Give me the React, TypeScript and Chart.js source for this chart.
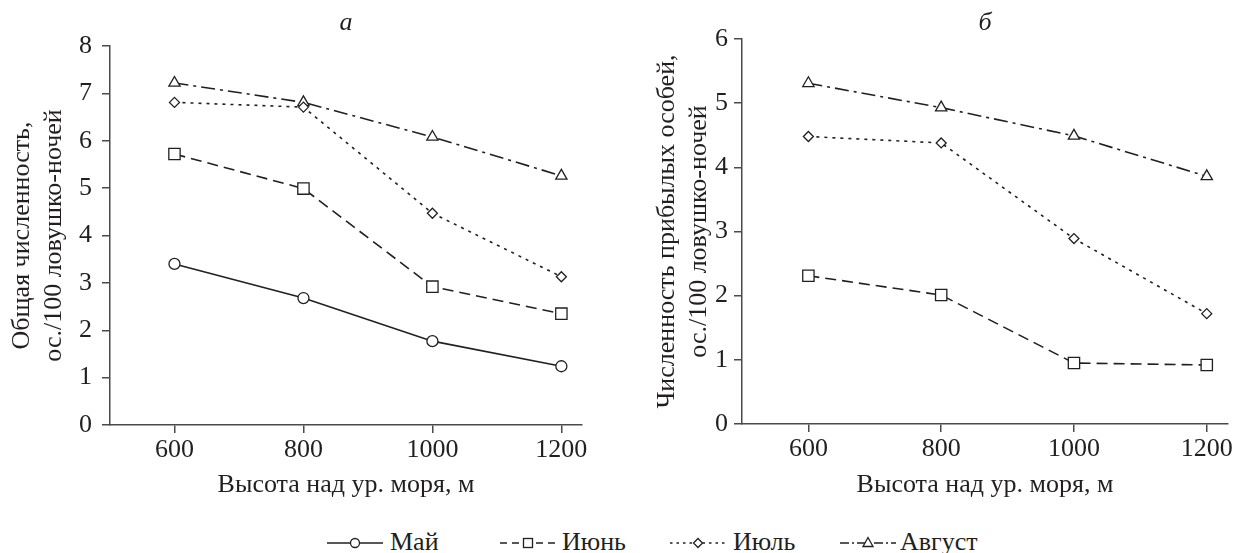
import React, { useEffect, useRef } from "react";
import { Chart, registerables } from "chart.js";

Chart.register(...registerables);

// ---------- data ----------
const altitudes = [600, 800, 1000, 1200];
const xTickValues = [600, 800, 1000, 1200];
const leftYTickValues = [0, 1, 2, 3, 4, 5, 6, 7, 8];
const rightYTickValues = [0, 1, 2, 3, 4, 5, 6];
const monthNames = ["Май", "Июнь", "Июль", "Август"];

// panel а: total abundance, ind./100 trap-nights
const totalMay = [3.4, 2.68, 1.77, 1.24];
const totalJune = [5.72, 4.99, 2.92, 2.35];
const totalJuly = [6.81, 6.71, 4.47, 3.13];
const totalAugust = [7.22, 6.81, 6.08, 5.26];

// panel б: abundance of young-of-the-year
const youngJune = [2.31, 2.01, 0.95, 0.92];
const youngJuly = [4.48, 4.38, 2.89, 1.72];
const youngAugust = [5.31, 4.93, 4.49, 3.86];

const leftYTitle = ["Общая численность,", "ос./100 ловушко-ночей"];
const rightYTitle = ["Численность прибылых особей,", "ос./100 ловушко-ночей"];
const xTitle = "Высота над ур. моря, м";

// ---------- styles ----------
const FONT = "'Liberation Serif', 'DejaVu Serif', 'Times New Roman', serif";
const INK = "#231f20";
const AXIS = "#4a4a4a";
const FS = 26;

const monthStyles: Record<string, any> = {
  "Май": { dash: [], pointStyle: "circle", radius: 5.5 },
  "Июнь": { dash: [11, 6], pointStyle: "rect", radius: 8 },
  "Июль": { dash: [3, 5], pointStyle: "rectRot", radius: 5 },
  "Август": { dash: [14, 5, 3, 5], pointStyle: "triangle", radius: 6.5 },
};

function makeDataset(name: string, values: number[]) {
  const s = monthStyles[name];
  return {
    label: name,
    data: altitudes.map((x, i) => ({ x, y: values[i] })),
    borderColor: INK,
    borderWidth: 1.6,
    borderDash: s.dash,
    pointStyle: s.pointStyle,
    pointRadius: s.radius,
    pointBorderWidth: 1.3,
    pointBorderColor: INK,
    pointBackgroundColor: "#ffffff",
    fill: false,
    tension: 0,
  };
}

function panelTitle(text: string) {
  return {
    id: "panelTitle",
    afterDraw(chart: any) {
      const { ctx, chartArea } = chart;
      ctx.save();
      ctx.font = `italic ${FS}px ${FONT}`;
      ctx.fillStyle = INK;
      ctx.textAlign = "center";
      ctx.textBaseline = "middle";
      ctx.fillText(text, (chartArea.left + chartArea.right) / 2, 23);
      ctx.restore();
    },
  };
}

interface PanelOpts {
  datasets: any[];
  yMax: number;
  yTicks: number[];
  yTitle: string[];
  yWidth: number;
  yTitlePad: number;
  yTickPad: number;
  padTop: number;
  padRight: number;
  xHeight: number;
  title: string;
}

function makeConfig(p: PanelOpts): any {
  const gridCommon = {
    display: true,
    drawOnChartArea: false,
    drawTicks: true,
    tickLength: 8,
    color: AXIS,
    lineWidth: 1.5,
  };
  return {
    type: "line",
    data: { datasets: p.datasets },
    plugins: [panelTitle(p.title)],
    options: {
      animation: false,
      responsive: false,
      maintainAspectRatio: false,
      layout: { padding: { top: p.padTop, right: p.padRight, left: 0, bottom: 0 } },
      plugins: {
        legend: { display: false },
        tooltip: { enabled: false },
        title: { display: false },
      },
      scales: {
        x: {
          type: "linear",
          min: 500,
          max: 1232,
          grid: gridCommon,
          border: { display: true, color: AXIS, width: 1.5 },
          afterBuildTicks: (scale: any) => {
            scale.ticks = xTickValues.map((v) => ({ value: v }));
          },
          afterFit: (scale: any) => {
            scale.height = p.xHeight;
          },
          ticks: {
            color: INK,
            padding: 2,
            maxRotation: 0,
            font: { family: FONT, size: FS },
            callback: (v: any) => String(v),
          },
          title: {
            display: true,
            text: xTitle,
            color: INK,
            font: { family: FONT, size: FS, lineHeight: 1.2 },
            padding: { top: 0, bottom: 9 },
          },
        },
        y: {
          type: "linear",
          min: 0,
          max: p.yMax,
          grid: gridCommon,
          border: { display: true, color: AXIS, width: 1.5 },
          afterBuildTicks: (scale: any) => {
            scale.ticks = p.yTicks.map((v) => ({ value: v }));
          },
          afterFit: (scale: any) => {
            scale.width = p.yWidth;
          },
          ticks: {
            color: INK,
            padding: p.yTickPad,
            font: { family: FONT, size: FS },
            callback: (v: any) => String(v),
          },
          title: {
            display: true,
            text: p.yTitle,
            color: INK,
            font: { family: FONT, size: FS, lineHeight: 1.2 },
            padding: { top: p.yTitlePad, bottom: 0 },
          },
        },
      },
    },
  };
}

function Panel({ width, height, left, opts }: { width: number; height: number; left: number; opts: PanelOpts }) {
  const ref = useRef<HTMLCanvasElement | null>(null);
  useEffect(() => {
    if (!ref.current) return;
    const chart = new Chart(ref.current, makeConfig(opts));
    return () => chart.destroy();
  }, []);
  return (
    <canvas
      ref={ref}
      width={width}
      height={height}
      style={{ position: "absolute", left, top: 0, width, height, display: "block" }}
    />
  );
}

function LegendSymbol({ name }: { name: string }) {
  const s = monthStyles[name];
  const w = 56;
  const h = 20;
  const cy = 10;
  const cx = w / 2;
  let marker: any = null;
  const mk = { fill: "#fff", stroke: INK, strokeWidth: 1.3 };
  if (s.pointStyle === "circle") marker = <circle cx={cx} cy={cy} r={4.5} {...mk} />;
  if (s.pointStyle === "rect") marker = <rect x={cx - 4.5} y={cy - 4.5} width={9} height={9} {...mk} />;
  if (s.pointStyle === "rectRot")
    marker = <polygon points={`${cx},${cy - 4.5} ${cx + 4.5},${cy} ${cx},${cy + 4.5} ${cx - 4.5},${cy}`} {...mk} />;
  if (s.pointStyle === "triangle")
    marker = <polygon points={`${cx},${cy - 5.5} ${cx + 5},${cy + 3.5} ${cx - 5},${cy + 3.5}`} {...mk} />;
  const dash = name === "Июнь" ? "7,5" : name === "Июль" ? "2.5,4" : name === "Август" ? "9,3,2,3" : undefined;
  return (
    <svg width={w} height={h} style={{ display: "block" }}>
      <line x1={0} y1={cy} x2={w} y2={cy} stroke={INK} strokeWidth={1.6} strokeDasharray={dash} />
      {marker}
    </svg>
  );
}

const legendSymbolX = [327, 500, 670, 840];
const legendTextX = [390, 562, 733, 900];

export default function App() {
  useEffect(() => {
    document.body.style.margin = "0";
  }, []);

  const leftOpts: PanelOpts = {
    datasets: [
      makeDataset("Май", totalMay),
      makeDataset("Июнь", totalJune),
      makeDataset("Июль", totalJuly),
      makeDataset("Август", totalAugust),
    ],
    yMax: 8,
    yTicks: leftYTickValues,
    yTitle: leftYTitle,
    yWidth: 110,
    yTitlePad: 7,
    yTickPad: 10,
    padTop: 46,
    padRight: 38,
    xHeight: 85,
    title: "а",
  };
  const rightOpts: PanelOpts = {
    datasets: [
      makeDataset("Июнь", youngJune),
      makeDataset("Июль", youngJuly),
      makeDataset("Август", youngAugust),
    ],
    yMax: 6,
    yTicks: rightYTickValues,
    yTitle: rightYTitle,
    yWidth: 122,
    yTitlePad: 32,
    yTickPad: 6,
    padTop: 39,
    padRight: 10,
    xHeight: 86,
    title: "б",
  };

  return (
    <div
      style={{
        position: "fixed",
        left: 0,
        top: 0,
        width: 1238,
        height: 553,
        background: "#ffffff",
        overflow: "hidden",
        fontFamily: FONT,
        color: INK,
      }}
    >
      <Panel width={620} height={510} left={0} opts={leftOpts} />
      <Panel width={618} height={510} left={620} opts={rightOpts} />
      {monthNames.map((name, i) => (
        <React.Fragment key={name}>
          <div style={{ position: "absolute", left: legendSymbolX[i], top: 533 }}>
            <LegendSymbol name={name} />
          </div>
          <div
            style={{
              position: "absolute",
              left: legendTextX[i],
              top: 527,
              fontSize: FS,
              lineHeight: "30px",
              whiteSpace: "nowrap",
            }}
          >
            {name}
          </div>
        </React.Fragment>
      ))}
    </div>
  );
}
